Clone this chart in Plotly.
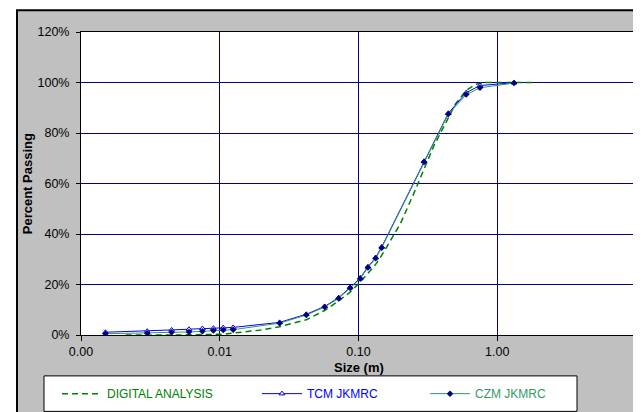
import plotly.graph_objects as go

# ---- data ----
sizes = [0.0015, 0.003, 0.0045, 0.006, 0.0075, 0.009, 0.0106, 0.0125, 0.027, 0.042,
         0.057, 0.072, 0.087, 0.103, 0.117, 0.133, 0.147, 0.297, 0.444, 0.598, 0.751, 1.32]
tcm = [1.1, 1.5, 2.0, 2.3, 2.6, 2.7, 2.9, 3.0, 5.0, 8.2,
       11.3, 14.8, 18.8, 22.6, 27.0, 30.7, 34.9, 68.8, 87.8, 96.0, 98.8, 99.9]
czm = [0.5, 0.7, 1.1, 1.2, 1.5, 1.8, 2.0, 2.1, 4.7, 7.9,
       11.1, 14.5, 18.6, 22.3, 26.7, 30.4, 34.6, 68.5, 87.5, 95.2, 97.9, 99.8]

da_sizes = [0.0021, 0.005, 0.0106, 0.0125, 0.02, 0.027, 0.042, 0.057, 0.072, 0.087,
            0.103, 0.117, 0.133, 0.147, 0.2, 0.25, 0.3, 0.35, 0.444, 0.5, 0.6, 0.7,
            0.8, 1.0, 1.9]
da = [0, 0, 0.3, 0.8, 2.0, 3.3, 6.0, 9.7, 13.5, 17.0,
      21.0, 24.5, 28.0, 31.5, 44, 56, 66.5, 75, 86, 91.5, 97, 99.3,
      100, 100, 100]

x_tickvals = [0.001, 0.01, 0.1, 1, 10]
x_ticktext = ["0.00", "0.01", "0.10", "1.00", "10.00"]
y_tickvals = [0, 20, 40, 60, 80, 100, 120]
y_ticktext = ["0%", "20%", "40%", "60%", "80%", "100%", "120%"]

series_names = ["DIGITAL ANALYSIS", "TCM JKMRC", "CZM JKMRC"]

# ---- layout geometry ----
W, H = 641, 412
L, R, T, B = 73, 628, 24, 331.5
pw, ph = R - L, B - T


def px(xp):
    return (xp - L) / pw


def py(yp):
    return (B - yp) / ph


FONT = "Liberation Sans, Arial, sans-serif"

fig = go.Figure()

fig.add_trace(go.Scatter(
    x=da_sizes, y=da, mode="lines", name=series_names[0], legend="legend",
    line=dict(color="#008000", width=1.5, dash="6px,4px"),
))
fig.add_trace(go.Scatter(
    x=sizes, y=tcm, mode="lines+markers", name=series_names[1], legend="legend2",
    line=dict(color="#0000FF", width=1),
    marker=dict(symbol="triangle-up", size=5, color="white",
                line=dict(color="#0000CC", width=1)),
))
fig.add_trace(go.Scatter(
    x=sizes, y=czm, mode="lines+markers", name=series_names[2], legend="legend3",
    line=dict(color="#339966", width=1),
    marker=dict(symbol="diamond", size=5, color="#000080",
                line=dict(color="#000080", width=0)),
))

legend_common = dict(
    orientation="h", bgcolor="rgba(0,0,0,0)", borderwidth=0,
    xanchor="left", yanchor="middle",
    y=py(391), itemwidth=40,
)

fig.update_layout(
    width=W, height=H,
    margin=dict(l=L, r=W - R, t=T, b=H - B, pad=0),
    paper_bgcolor="white",
    plot_bgcolor="white",
    font=dict(family=FONT, size=12, color="black"),
    showlegend=True,
    legend=dict(legend_common, x=px(49), font=dict(family=FONT, size=12, color="#008000")),
    legend2=dict(legend_common, x=px(249), font=dict(family=FONT, size=12, color="#0000FF")),
    legend3=dict(legend_common, x=px(417), font=dict(family=FONT, size=12, color="#339966")),
    xaxis=dict(
        type="log", range=[-3, 1], tickvals=x_tickvals, ticktext=x_ticktext,
        showgrid=True, gridcolor="#000080", gridwidth=1,
        showline=True, linecolor="black", linewidth=1, mirror=True,
        ticks="outside", ticklen=5, tickcolor="black",
        tickfont=dict(family=FONT, size=12.5), ticklabelstandoff=0,
        zeroline=False,
    ),
    yaxis=dict(
        range=[0, 120], tickvals=y_tickvals, ticktext=y_ticktext,
        showgrid=True, gridcolor="#000080", gridwidth=1,
        showline=True, linecolor="black", linewidth=1, mirror=True,
        ticks="outside", ticklen=4, tickcolor="black",
        tickfont=dict(family=FONT, size=12.5), ticklabelstandoff=4,
        zeroline=False,
    ),
    shapes=[
        # gray chart area with black frame
        dict(type="rect", xref="paper", yref="paper",
             x0=px(9), x1=px(W + 20), y0=py(H + 20), y1=py(2),
             fillcolor="#C0C0C0", line=dict(color="black", width=2), layer="below"),
        # white plot area
        dict(type="rect", xref="paper", yref="paper",
             x0=0, x1=1, y0=0, y1=1,
             fillcolor="white", line=dict(width=0), layer="below"),
        # legend box
        dict(type="rect", xref="paper", yref="paper",
             x0=px(36), x1=px(569), y0=py(409), y1=py(373),
             fillcolor="white", line=dict(color="black", width=1), layer="below"),
    ],
    annotations=[
        dict(text="<b>Size (m)</b>", xref="paper", yref="paper",
             x=0.5, y=py(364), xanchor="center", yanchor="middle",
             showarrow=False, font=dict(family=FONT, size=13)),
        dict(text="<b>Percent Passing</b>", xref="paper", yref="paper",
             x=px(19.5), y=py(178), xanchor="center", yanchor="middle",
             textangle=-90, showarrow=False, font=dict(family=FONT, size=13)),
    ],
)

fig.write_html("out.html")
